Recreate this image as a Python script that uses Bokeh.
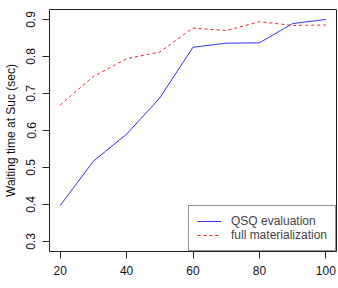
from bokeh.plotting import figure
from bokeh.models import Range1d, FixedTicker, Legend, LegendItem
from bokeh.embed import file_html
from bokeh.resources import INLINE

# Number of queries vs. waiting time
sizes = [20, 30, 40, 50, 60, 70, 80, 90, 100]
qsq_eval = [0.397, 0.517, 0.590, 0.688, 0.825, 0.836, 0.837, 0.889, 0.900]
full_mat = [0.669, 0.746, 0.794, 0.812, 0.877, 0.870, 0.894, 0.884, 0.885]

x_ticks = [20, 40, 60, 80, 100]
y_ticks = [0.3, 0.4, 0.5, 0.6, 0.7, 0.8, 0.9]
series_names = ["QSQ evaluation", "full materialization"]
y_title = "Waiting time at Suc (sec)"

FONT = "Liberation Sans"

p = figure(width=338, height=288, output_backend="svg", toolbar_location=None,
           x_range=Range1d(16.8, 103.2), y_range=Range1d(0.273, 0.927),
           min_border_left=49, min_border_right=2, min_border_top=9,
           min_border_bottom=37)
p.background_fill_color = "white"
p.border_fill_color = "white"
p.outline_line_color = "#222222"
p.outline_line_width = 1
p.grid.visible = False

for ax, ticks in ((p.xaxis, x_ticks), (p.yaxis, y_ticks)):
    ax.ticker = FixedTicker(ticks=ticks)
    ax.axis_line_color = None
    ax.major_tick_out = 7
    ax.major_tick_in = 0
    ax.major_tick_line_color = "#222222"
    ax.minor_tick_line_color = None
    ax.major_label_text_font = FONT
    ax.major_label_text_font_size = "12px"
    ax.major_label_text_color = "#111111"
    ax.major_label_standoff = 7
p.yaxis.major_label_orientation = "vertical"

p.yaxis.axis_label = y_title
p.yaxis.axis_label_text_font = FONT
p.yaxis.axis_label_text_font_size = "12px"
p.yaxis.axis_label_text_font_style = "normal"
p.yaxis.axis_label_text_color = "#111111"
p.yaxis.axis_label_standoff = 6

r1 = p.line(sizes, qsq_eval, line_color="#3333ee", line_width=1.0)
r2 = p.line(sizes, full_mat, line_color="#ee2222", line_width=1.0, line_dash="3 3")

legend = Legend(items=[LegendItem(label=series_names[0], renderers=[r1]),
                       LegendItem(label=series_names[1], renderers=[r2])],
                location="bottom_right", margin=0, padding=8, spacing=0,
                border_line_color="#222222", border_line_width=1,
                label_text_font=FONT, label_text_font_size="12px",
                label_text_line_height=0.9,
                label_height=10, glyph_height=10, glyph_width=24,
                label_standoff=10, background_fill_alpha=1)
p.add_layout(legend)

open("out.html", "w").write(file_html(p, INLINE))
